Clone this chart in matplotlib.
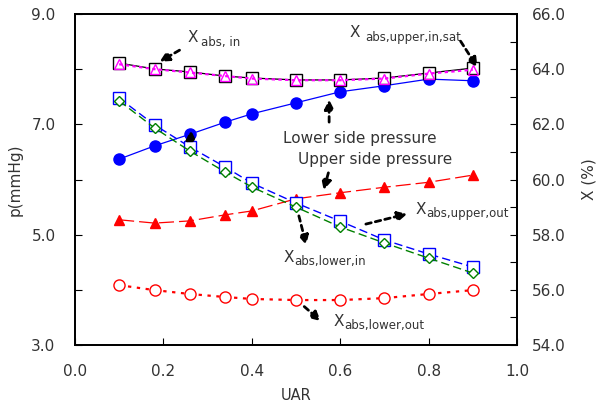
import matplotlib
matplotlib.use("Agg")
import matplotlib.pyplot as plt
import numpy as np

plt.rcParams['font.family'] = ['DejaVu Sans']

# UAR values
uar = [0.10, 0.18, 0.26, 0.34, 0.40, 0.50, 0.60, 0.70, 0.80, 0.90]

# pressures (mmHg), left axis
p_lower = [6.37, 6.61, 6.82, 7.04, 7.19, 7.39, 7.59, 7.70, 7.82, 7.79]
p_upper = [5.27, 5.21, 5.25, 5.36, 5.43, 5.65, 5.76, 5.86, 5.95, 6.08]

# concentrations (%), right axis
x_upper_in_sat = [64.22, 64.01, 63.90, 63.75, 63.68, 63.61, 63.61, 63.68, 63.86, 64.04]
x_abs_in = [64.18, 64.00, 63.88, 63.75, 63.66, 63.60, 63.60, 63.66, 63.84, 63.98]
x_upper_out = [62.95, 61.98, 61.18, 60.45, 59.87, 59.15, 58.49, 57.81, 57.30, 56.83]
x_lower_in = [62.85, 61.87, 61.03, 60.27, 59.73, 59.00, 58.28, 57.70, 57.15, 56.61]
x_lower_out = [56.17, 55.99, 55.85, 55.74, 55.67, 55.63, 55.63, 55.70, 55.85, 55.99]

txt = '#333333'

fig = plt.figure(figsize=(5.98, 4.05), dpi=100)
ax = fig.add_axes([0.1254, 0.1481, 0.7391, 0.8173])
ax2 = ax.twinx()

ax.plot(uar, p_lower, '-', color='blue', lw=0.9, marker='o', ms=8,
        mfc='blue', mec='blue', zorder=3)
ax.plot(uar, p_upper, color='red', lw=0.9, dashes=(12, 4), marker='^', ms=7.5,
        mfc='red', mec='red', zorder=3)

ax2.plot(uar, x_upper_in_sat, '-', color='black', lw=0.9, marker='s', ms=8,
         mfc='white', mec='black', zorder=3)
ax2.plot(uar, x_abs_in, color='magenta', lw=1.6, dashes=(1.5, 1.5), marker='^', ms=7,
         mfc='none', mec='magenta', zorder=4)
ax2.plot(uar, x_upper_out, color='blue', lw=1.0, dashes=(6, 3), marker='s', ms=8,
         mfc='white', mec='blue', zorder=3)
ax2.plot(uar, x_lower_in, color='green', lw=1.0, dashes=(6, 3), marker='D', ms=5.5,
         mfc='white', mec='green', zorder=4)
ax2.plot(uar, x_lower_out, color='red', lw=1.6, dashes=(1.5, 2.5), marker='o', ms=8,
         mfc='white', mec='red', zorder=3)

ax.set_xlim(0, 1.0)
ax.set_ylim(3.0, 9.0)
ax2.set_ylim(54.0, 66.0)

ax.set_xticks(np.arange(0, 1.01, 0.2))
ax.set_xticklabels(['%.1f' % v for v in np.arange(0, 1.01, 0.2)])
ax.set_yticks([3, 5, 7, 9])
ax.set_yticklabels(['3.0', '5.0', '7.0', '9.0'])
ax.set_yticks([4, 6, 8], minor=True)
ax2.set_yticks(np.arange(54, 67, 2))
ax2.set_yticklabels(['%.1f' % v for v in np.arange(54, 67, 2)])
ax2.set_yticks(np.arange(55, 66, 2), minor=True)

for a in (ax, ax2):
    a.tick_params(which='both', direction='in', colors='black', labelcolor=txt,
                  labelsize=11, length=5, width=0.8)
    for s in a.spines.values():
        s.set_linewidth(1.3)
ax.tick_params(axis='both', which='both', pad=14)
ax.tick_params(axis='x', top=False)
ax2.tick_params(axis='y', which='both', pad=11)

ax.set_xlabel('UAR', color=txt, fontsize=10.5, labelpad=6)
ax.set_ylabel('p(mmHg)', color=txt, fontsize=11, labelpad=6)
ax2.set_ylabel('X (%)', color=txt, fontsize=11, labelpad=11)

arrow = dict(arrowstyle='-|>', color='black', lw=2, linestyle=(0, (2, 1.5)),
             mutation_scale=14)

# notes go on the top axes (ax2) but use the pressure axis coordinates
def note(xy, xytext):
    ax2.annotate('', xy=xy, xytext=xytext, xycoords=ax.transData,
                 textcoords=ax.transData, arrowprops=arrow, zorder=6)

def label(x, y, sub, xs, ys):
    ax2.text(x, y, 'X', transform=ax.transData, fontsize=11, color=txt,
             ha='left', va='center')
    ax2.text(xs, ys, sub, transform=ax.transData, fontsize=8.5, color=txt,
             ha='left', va='center')

note((0.186, 8.11), (0.242, 8.37))
note((0.914, 7.99), (0.869, 8.55))
note((0.262, 6.95), (0.262, 6.68))
note((0.575, 7.50), (0.575, 6.99))
note((0.561, 5.76), (0.575, 6.17))
note((0.525, 4.76), (0.505, 5.39))
note((0.758, 5.39), (0.652, 5.18))
note((0.561, 3.40), (0.514, 3.73))

label(0.254, 8.583, 'abs, in', 0.285, 8.492)
label(0.622, 8.656, 'abs,upper,in,sat', 0.656, 8.583)
label(0.473, 4.595, 'abs,lower,in', 0.496, 4.505)
label(0.771, 5.46, 'abs,upper,out', 0.795, 5.393)
label(0.586, 3.435, 'abs,lower,out', 0.610, 3.362)

ax2.text(0.471, 6.752, 'Lower side pressure', transform=ax.transData,
         fontsize=11, color=txt, va='center')
ax2.text(0.505, 6.354, 'Upper side pressure', transform=ax.transData,
         fontsize=11, color=txt, va='center')

fig.savefig('out.png', dpi=100)
